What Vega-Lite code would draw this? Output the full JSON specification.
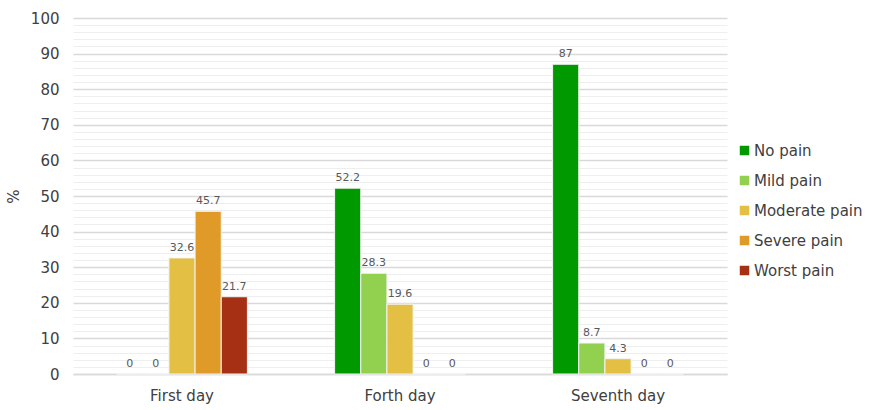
{
  "$schema": "https://vega.github.io/schema/vega-lite/v6.json",
  "autosize": {"type": "none"},
  "width": 654,
  "height": 356,
  "padding": {"left": 73, "top": 18, "right": 155, "bottom": 36},
  "background": "white",
  "config": {
    "view": {"stroke": null},
    "font": "DejaVu Sans"
  },
  "data": {
    "values": [
      {"day": "First day", "level": "No pain", "pct": 0},
      {"day": "First day", "level": "Mild pain", "pct": 0},
      {"day": "First day", "level": "Moderate pain", "pct": 32.6},
      {"day": "First day", "level": "Severe pain", "pct": 45.7},
      {"day": "First day", "level": "Worst  pain", "pct": 21.7},
      {"day": "Forth day", "level": "No pain", "pct": 52.2},
      {"day": "Forth day", "level": "Mild pain", "pct": 28.3},
      {"day": "Forth day", "level": "Moderate pain", "pct": 19.6},
      {"day": "Forth day", "level": "Severe pain", "pct": 0},
      {"day": "Forth day", "level": "Worst  pain", "pct": 0},
      {"day": "Seventh day", "level": "No pain", "pct": 87},
      {"day": "Seventh day", "level": "Mild pain", "pct": 8.7},
      {"day": "Seventh day", "level": "Moderate pain", "pct": 4.3},
      {"day": "Seventh day", "level": "Severe pain", "pct": 0},
      {"day": "Seventh day", "level": "Worst  pain", "pct": 0}
    ]
  },
  "encoding": {
    "x": {
      "field": "day",
      "type": "nominal",
      "sort": ["First day", "Forth day", "Seventh day"],
      "scale": {"paddingInner": 0.4, "paddingOuter": 0.2},
      "axis": {
        "title": null,
        "labelAngle": 0,
        "labelFontSize": 15,
        "labelColor": "#404040",
        "labelPadding": 14,
        "ticks": false,
        "domainColor": "#d9d9d9",
        "domainWidth": 1.5
      }
    },
    "xOffset": {
      "field": "level",
      "type": "nominal",
      "sort": ["No pain", "Mild pain", "Moderate pain", "Severe pain", "Worst  pain"],
      "scale": {"paddingInner": 0, "paddingOuter": 0}
    },
    "y": {
      "field": "pct",
      "type": "quantitative",
      "scale": {"domain": [0, 100], "nice": false},
      "axis": {
        "title": "%",
        "titleFontSize": 15,
        "titleFontWeight": "normal",
        "titleColor": "#404040",
        "titlePadding": 9,
        "values": [0, 2, 4, 6, 8, 10, 12, 14, 16, 18, 20, 22, 24, 26, 28, 30, 32, 34, 36, 38, 40, 42, 44, 46, 48, 50, 52, 54, 56, 58, 60, 62, 64, 66, 68, 70, 72, 74, 76, 78, 80, 82, 84, 86, 88, 90, 92, 94, 96, 98, 100],
        "labelExpr": "datum.value % 10 === 0 ? datum.label : ''",
        "labelFontSize": 15,
        "labelColor": "#404040",
        "labelPadding": 14,
        "ticks": false,
        "domain": false,
        "gridColor": {"condition": {"test": "datum.value % 10 === 0", "value": "#d9d9d9"}, "value": "#eeeeee"},
        "gridWidth": {"condition": {"test": "datum.value % 10 === 0", "value": 1.5}, "value": 1}
      }
    }
  },
  "layer": [
    {
      "mark": {"type": "bar", "stroke": "#f4f4f4", "strokeWidth": 1},
      "encoding": {
        "color": {
          "field": "level",
          "type": "nominal",
          "scale": {
            "domain": ["No pain", "Mild pain", "Moderate pain", "Severe pain", "Worst  pain"],
            "range": ["#009900", "#92D050", "#E3C044", "#E09A28", "#A53014"]
          },
          "legend": {
            "title": null,
            "orient": "none",
            "legendX": 664,
            "legendY": 125,
            "symbolType": "square",
            "symbolSize": 90,
            "symbolStrokeWidth": 0,
            "labelFontSize": 15,
            "labelColor": "#404040",
            "labelOffset": 2,
            "rowPadding": 14
          }
        }
      }
    },
    {
      "mark": {"type": "text", "dy": -10, "fontSize": 11, "fill": "#595959"},
      "encoding": {
        "text": {"field": "pct", "type": "quantitative"}
      }
    }
  ]
}
